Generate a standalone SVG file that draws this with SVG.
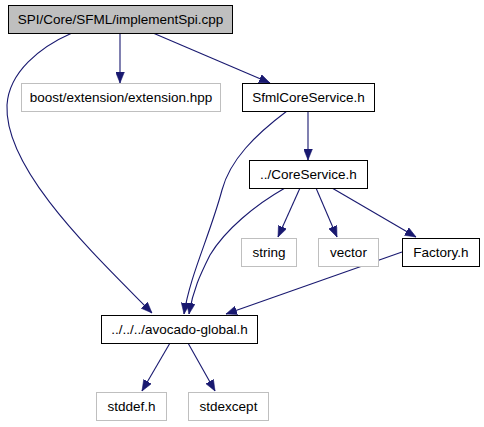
<svg xmlns="http://www.w3.org/2000/svg" width="484" height="427" viewBox="0 0 484 427">
<style>
.n rect{fill:#fff;stroke:#000;stroke-width:1}
.g rect{fill:#fff;stroke:#bfbfbf;stroke-width:1}
.root rect{fill:#bfbfbf;stroke:#000;stroke-width:1}
text{font-family:"Liberation Sans",Arial,sans-serif;font-size:13.5px;text-anchor:middle;fill:#000}
.e path{fill:none;stroke:#191970;stroke-width:1.1;marker-end:url(#a)}
</style>
<defs>
<marker id="a" viewBox="0 0 10 8" refX="10" refY="4" markerWidth="11" markerHeight="9" markerUnits="userSpaceOnUse" orient="auto">
<path d="M0,0 L10,4 L0,8 Z" fill="#191970" stroke="#191970" stroke-width="0.5"/>
</marker>
</defs>
<rect width="484" height="427" fill="#fff"/>
<g class="e" id="edges">
<path d="M72,33 C40,47 9,72 7,105 C4,170 95,255 152,313"/>
<path d="M120,33 L120,83"/>
<path d="M153,33 L270,83"/>
<path d="M308,111 L308,160"/>
<path d="M287,111 C255,135 230,160 222,190 C210,235 190,275 184,314"/>
<path d="M285,188 C255,205 225,230 210,255 C200,275 193,290 189,314"/>
<path d="M300,188 L278,237"/>
<path d="M316,188 L337,237"/>
<path d="M332,188 L416,237"/>
<path d="M402,252 L226,314"/>
<path d="M170,343 L142,391"/>
<path d="M188,343 L215,391"/>
</g>
<g class="root" id="n_implementSpi"><rect x="8.5" y="5.5" width="224" height="28"/><text x="120.5" y="24">SPI/Core/SFML/implementSpi.cpp</text></g>
<g class="g" id="n_boost"><rect x="21.5" y="83.5" width="199" height="28"/><text x="121" y="102">boost/extension/extension.hpp</text></g>
<g class="n" id="n_sfml"><rect x="242.5" y="83.5" width="132" height="28"/><text x="308.5" y="102">SfmlCoreService.h</text></g>
<g class="n" id="n_core"><rect x="249.5" y="160.5" width="118" height="28"/><text x="308.5" y="179">../CoreService.h</text></g>
<g class="g" id="n_string"><rect x="241.5" y="238.5" width="55" height="28"/><text x="269" y="257">string</text></g>
<g class="g" id="n_vector"><rect x="318.5" y="238.5" width="60" height="28"/><text x="348.5" y="257">vector</text></g>
<g class="n" id="n_factory"><rect x="402.5" y="238.5" width="77" height="28"/><text x="441" y="257">Factory.h</text></g>
<g class="n" id="n_avocado"><rect x="101.5" y="315.5" width="156" height="28"/><text x="179.5" y="334">../../../avocado-global.h</text></g>
<g class="g" id="n_stddef"><rect x="96.5" y="392.5" width="70" height="28"/><text x="131.5" y="411">stddef.h</text></g>
<g class="g" id="n_stdexcept"><rect x="188.5" y="392.5" width="80" height="28"/><text x="228.5" y="411">stdexcept</text></g>
</svg>
